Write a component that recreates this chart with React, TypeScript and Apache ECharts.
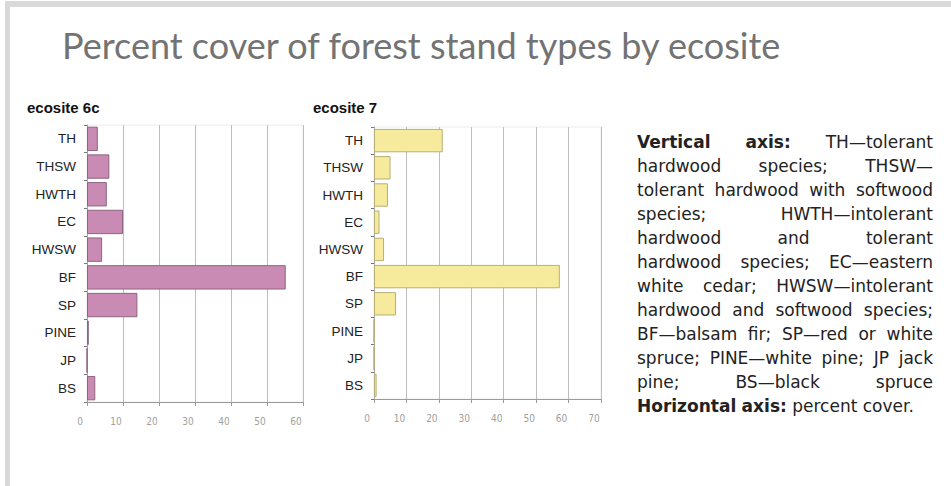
import React, { useEffect, useRef } from "react";
import * as echarts from "echarts";

// ---- data ----
const categories = ["TH", "THSW", "HWTH", "EC", "HWSW", "BF", "SP", "PINE", "JP", "BS"];
const ecosite6c = [3, 6.2, 5.5, 10, 4.2, 55.2, 14, 0.5, 0, 2.3];
const ecosite7 = [21.2, 5.1, 4.3, 1.7, 3.1, 57.3, 6.8, 0, 0, 0.8];
const max6c = 60;
const max7 = 70;
const tickStep = 10;

const titleText = "Percent cover of forest stand types by ecosite";
const panelTitles = ["ecosite 6c", "ecosite 7"];

// '*' marks bold words
const noteLines = [
  "*Vertical *axis: TH—tolerant",
  "hardwood species; THSW—",
  "tolerant hardwood with softwood",
  "species; HWTH—intolerant",
  "hardwood and tolerant",
  "hardwood species; EC—eastern",
  "white cedar; HWSW—intolerant",
  "hardwood and softwood species;",
  "BF—balsam fir; SP—red or white",
  "spruce; PINE—white pine; JP jack",
  "pine; BS—black spruce",
  "*Horizontal *axis: percent cover.",
];

export default function App() {
  const ref = useRef<HTMLDivElement>(null);
  useEffect(() => {
    if (!ref.current) return;
    const chart = echarts.init(ref.current, undefined, { renderer: "svg" });

    const FF = '"DejaVu Sans"';
    const FS = 17;
    const PX = 637;
    const PW = 296;
    const canvas = document.createElement("canvas");
    const ctx = canvas.getContext("2d")!;
    const measure = (t: string, b: boolean) => {
      ctx.font = `${b ? "bold " : ""}${FS}px ${FF}`;
      return ctx.measureText(t).width;
    };
    const graphics: any[] = [
      { type: "rect", shape: { x: 5, y: 1, width: 946, height: 6 }, style: { fill: "#d9d9d9" }, z: 1 },
      { type: "rect", shape: { x: 5, y: 1, width: 5, height: 485 }, style: { fill: "#d9d9d9" }, z: 1 },
      {
        type: "text",
        x: 62,
        y: 44.5,
        style: { text: titleText, fontFamily: "Lato", fontSize: 36, fill: "#737373", verticalAlign: "middle", align: "left" },
      },
      {
        type: "text",
        x: 27,
        y: 107.5,
        style: { text: panelTitles[0], fontFamily: '"Liberation Sans", Arial, sans-serif', fontWeight: "bold", fontSize: 15, fill: "#111", verticalAlign: "middle" },
      },
      {
        type: "text",
        x: 313,
        y: 107.5,
        style: { text: panelTitles[1], fontFamily: '"Liberation Sans", Arial, sans-serif', fontWeight: "bold", fontSize: 15, fill: "#111", verticalAlign: "middle" },
      },
    ];
    noteLines.forEach((line, i) => {
      const justify = i < noteLines.length - 1;
      const y = 147.5 + 24 * i - 5.9;
      const words = line.split(" ").map((w) => ({ t: w.replace(/^\*/, ""), b: w.startsWith("*") }));
      const widths = words.map((w) => measure(w.t, w.b));
      const total = widths.reduce((a, b) => a + b, 0);
      const gap = justify && words.length > 1 ? (PW - total) / (words.length - 1) : measure(" ", false);
      let x = PX;
      words.forEach((w, j) => {
        graphics.push({
          type: "text",
          x,
          y,
          style: {
            text: w.t,
            fontFamily: FF,
            fontSize: FS,
            fontWeight: w.b ? "bold" : "normal",
            fill: "#222",
            verticalAlign: "middle",
            align: "left",
          },
        });
        x += widths[j] + gap;
      });
    });

    const xAxisBase = (gridIndex: number, max: number) => ({
      gridIndex,
      type: "value",
      min: 0,
      max,
      interval: tickStep,
      axisLine: { show: true, lineStyle: { color: "#9a9a9a", width: 1 } },
      axisTick: { show: true, length: 4, lineStyle: { color: "#9a9a9a" } },
      splitLine: { show: true, lineStyle: { color: "#bdbdbd", width: 1 } },
      axisLabel: {
        color: "#a0a0a0",
        fontSize: 10,
        fontFamily: '"Liberation Sans Narrow", "DejaVu Sans Condensed", "Liberation Sans", sans-serif',
        margin: 14,
        padding: [0, 14, 0, 0],
      },
    });
    const yAxisBase = (gridIndex: number) => ({
      gridIndex,
      type: "category",
      data: categories,
      inverse: true,
      axisLine: { show: true, lineStyle: { color: "#a8a8a8" } },
      axisTick: { show: true, length: 3, lineStyle: { color: "#777" } },
      axisLabel: { color: "#222", fontSize: 13.5, fontFamily: '"Liberation Sans", Arial, sans-serif', margin: 11 },
    });

    chart.setOption({
      animation: false,
      grid: [
        { left: 87, top: 125, width: 216, height: 277, show: true, borderColor: "#ececec", borderWidth: 1 },
        { left: 374, top: 127, width: 227, height: 272, show: true, borderColor: "#ececec", borderWidth: 1 },
      ],
      xAxis: [xAxisBase(0, max6c), xAxisBase(1, max7)],
      yAxis: [yAxisBase(0), yAxisBase(1)],
      series: [
        {
          type: "bar",
          xAxisIndex: 0,
          yAxisIndex: 0,
          data: ecosite6c,
          barCategoryGap: "12%",
          itemStyle: { color: "#c98ab3", borderColor: "#8e6581", borderWidth: 1 },
        },
        {
          type: "bar",
          xAxisIndex: 1,
          yAxisIndex: 1,
          data: ecosite7,
          barCategoryGap: "14%",
          itemStyle: { color: "#f6eb9c", borderColor: "#b9ae76", borderWidth: 1 },
        },
      ],
      graphic: graphics,
    });
    return () => chart.dispose();
  }, []);
  return (
    <div
      ref={ref}
      style={{ position: "absolute", left: 0, top: 0, width: 951, height: 486, background: "#fff" }}
    />
  );
}
